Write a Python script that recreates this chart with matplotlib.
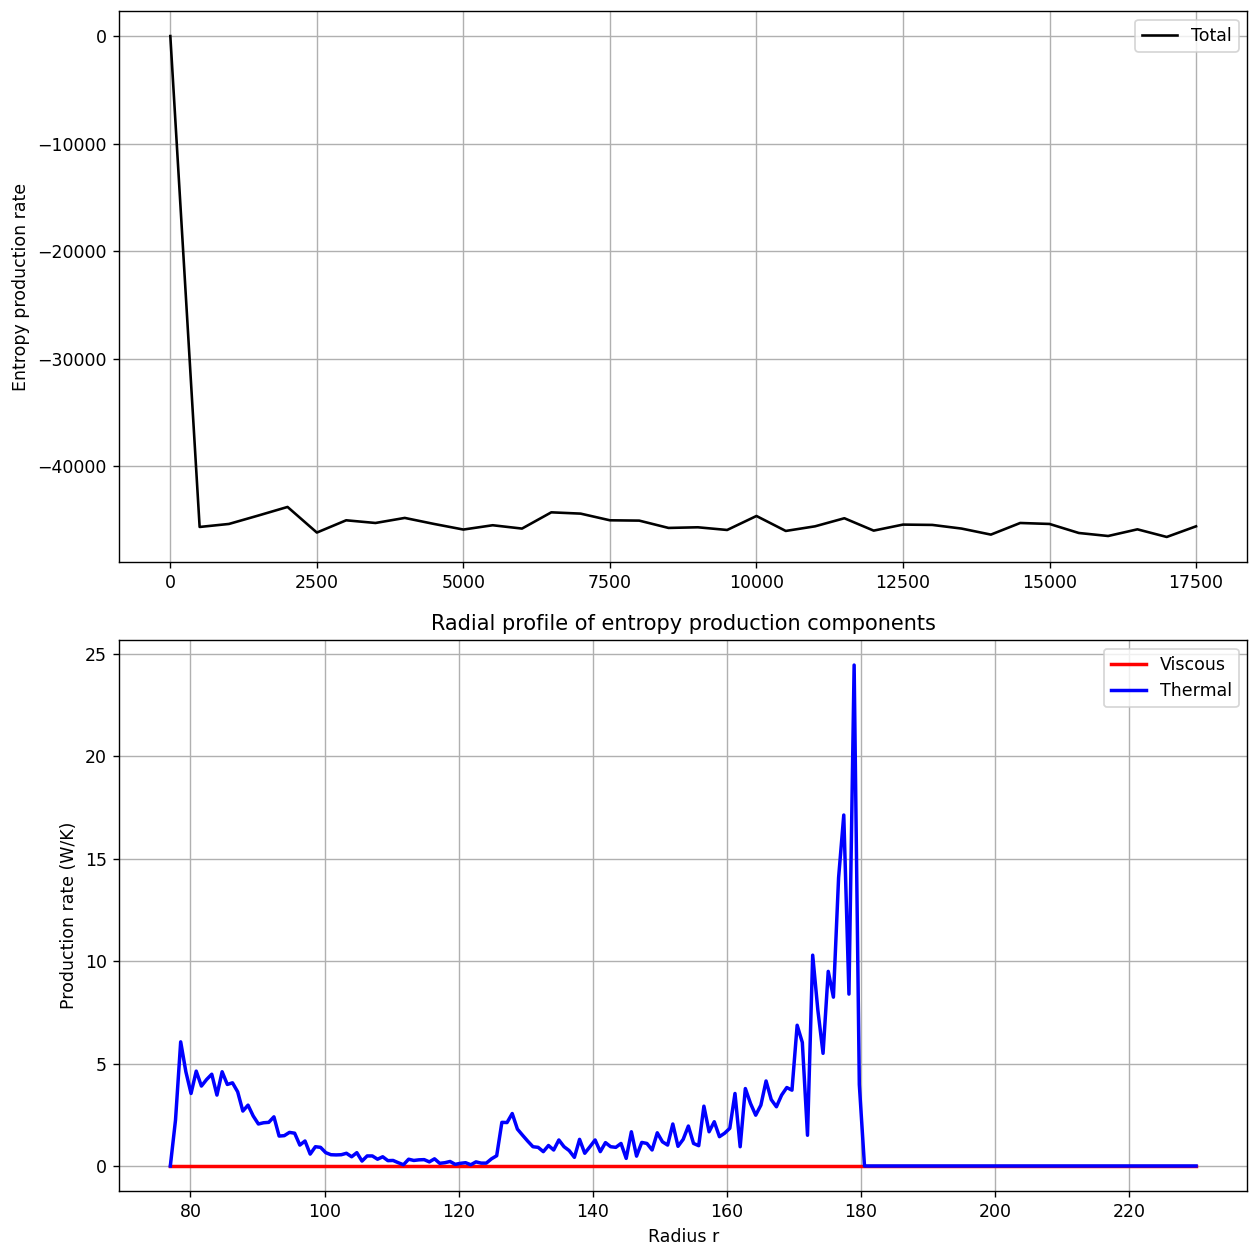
import numpy as np
import matplotlib.pyplot as plt

# total entropy production vs iteration
steps = [0, 500, 1000, 1500, 2000, 2500, 3000, 3500, 4000, 4500, 5000, 5500,
         6000, 6500, 7000, 7500, 8000, 8500, 9000, 9500, 10000, 10500, 11000,
         11500, 12000, 12500, 13000, 13500, 14000, 14500, 15000, 15500, 16000,
         16500, 17000, 17500]
total = [0, -45630, -45350, -44570, -43770, -46150, -45010, -45260, -44790,
         -45350, -45870, -45470, -45780, -44270, -44390, -45010, -45040, -45720,
         -45660, -45910, -44610, -46000, -45570, -44820, -45970, -45410, -45440,
         -45780, -46340, -45260, -45350, -46190, -46470, -45850, -46560, -45570]

# radial profile
radius = np.linspace(77, 230, 199)
thermal = [0.0, 2.24, 6.06, 4.6, 3.54, 4.63, 3.9, 4.22, 4.48, 3.46,
           4.6, 3.98, 4.06, 3.62, 2.68, 2.97, 2.44, 2.05, 2.11, 2.13,
           2.4, 1.46, 1.48, 1.64, 1.6, 1.02, 1.22, 0.58, 0.94, 0.91,
           0.65, 0.55, 0.54, 0.55, 0.62, 0.45, 0.65, 0.24, 0.49, 0.49,
           0.33, 0.45, 0.26, 0.27, 0.16, 0.06, 0.33, 0.27, 0.3, 0.31,
           0.2, 0.35, 0.13, 0.16, 0.22, 0.08, 0.13, 0.16, 0.06, 0.2,
           0.14, 0.14, 0.35, 0.5, 2.13, 2.12, 2.56, 1.8, 1.5, 1.21,
           0.94, 0.91, 0.7, 1.0, 0.78, 1.27, 0.94, 0.75, 0.42, 1.3,
           0.62, 0.94, 1.27, 0.7, 1.14, 0.94, 0.91, 1.1, 0.37, 1.67,
           0.48, 1.15, 1.1, 0.78, 1.62, 1.18, 1.02, 2.05, 0.96, 1.3,
           1.95, 1.1, 0.99, 2.92, 1.67, 2.16, 1.43, 1.6, 1.84, 3.54,
           0.94, 3.78, 3.05, 2.48, 2.97, 4.15, 3.24, 2.89, 3.46, 3.83,
           3.7, 6.87, 6.03, 1.5, 10.29, 7.6, 5.5, 9.5, 8.24, 14.07,
           17.13, 8.39, 24.45, 3.98, 0.0] + [0.0] * 64
viscous = [0.0] * 199

fig, (ax1, ax2) = plt.subplots(2, 1, figsize=(1257 / 125, 1252 / 125), dpi=125)
fig.subplots_adjust(left=0.0947, right=0.9923, top=0.9912, bottom=0.0487, hspace=0.1416)

ax1.plot(steps, total, color="black", label="Total")
ax1.set_ylabel("Entropy production rate")
ax1.grid(True)
ax1.legend(loc="upper right")

ax2.plot(radius, viscous, color="red", lw=2, label="Viscous")
ax2.plot(radius, thermal, color="blue", lw=2, label="Thermal")
ax2.set_title("Radial profile of entropy production components")
ax2.set_xlabel("Radius r")
ax2.set_ylabel("Production rate (W/K)")
ax2.grid(True)
ax2.legend(loc="upper right")

fig.savefig("out.png")
plt.close(fig)
